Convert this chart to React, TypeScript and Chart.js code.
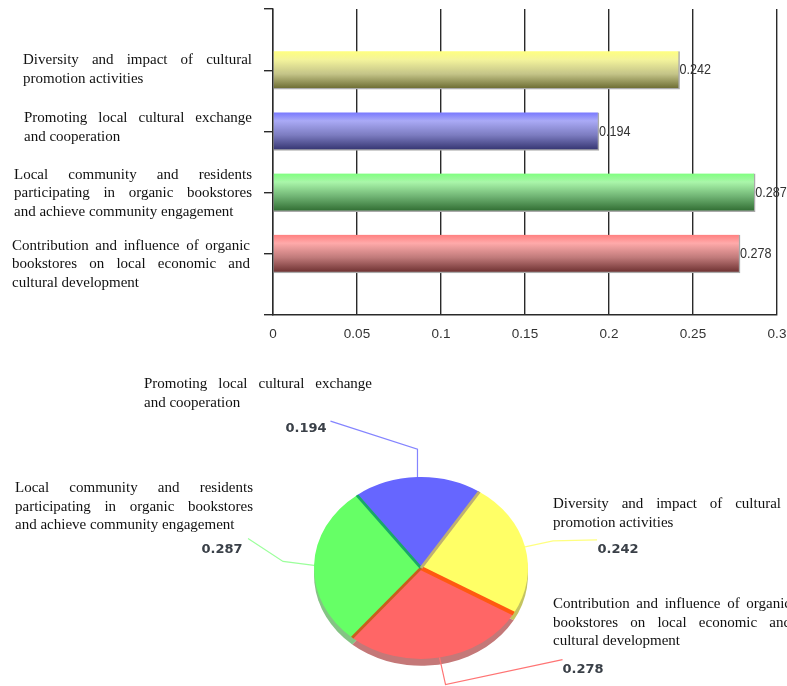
import React, { useEffect, useRef } from "react";
import { Chart, registerables } from "chart.js";

Chart.register(...registerables);

const categories = [
  "Diversity and impact of cultural promotion activities",
  "Promoting local cultural exchange and cooperation",
  "Local community and residents participating in organic bookstores and achieve community engagement",
  "Contribution and influence of organic bookstores on local economic and cultural development",
];
const categoryLines = [
  ["Diversity and impact of cultural", "promotion activities"],
  ["Promoting local cultural exchange", "and cooperation"],
  ["Local community and residents", "participating in organic bookstores", "and achieve community engagement"],
  ["Contribution and influence of organic", "bookstores on local economic and", "cultural development"],
];
const values = [0.242, 0.194, 0.287, 0.278];
const xTickLabels = ["0", "0.05", "0.1", "0.15", "0.2", "0.25", "0.3"];
const pieOrder = [0, 3, 2, 1];

const solid = ["#ffff66", "#6666ff", "#66ff66", "#ff6666"];
const wall = ["#c4c460", "#4444a8", "#84c484", "#c47878"];
const band = ["#ff5a10", "#c0b070", "#18a868", "#c8601c"];
const bandWidth = [4.5, 3, 3, 3];
const leader = ["#ffff80", "#8484ff", "#9cff9c", "#ff7474"];
const barStops = [
  ["#ffff80", "#f4f49c", "#c4c488", "#68682e"],
  ["#7878ff", "#aaaaf6", "#7c7cc0", "#32326e"],
  ["#80ff80", "#aaf6aa", "#70b474", "#2e6a30"],
  ["#ff8080", "#ffaaaa", "#c07a7a", "#6a2e2e"],
];

const SERIF = "15px 'Liberation Serif', serif";
const LH = 18.7;

// x, width, first-line centre offset from the tick
const barText = [
  [23, 229, -10],
  [24, 228, -13],
  [14, 238, -18],
  [12, 238, -8],
];
// x, width, first-line centre (pie canvas coordinates)
const pieText = [
  [553, 228, 159],
  [144, 228, 39],
  [15, 238, 143],
  [553, 238, 259],
];
// pie value label x, y
const pieValuePos = [
  [618, 205],
  [306, 84],
  [222, 205],
  [583, 325],
];
const leaderOffsets = [
  [[28, -6], [72, -7]],
  [[0, -28], [-87, -56]],
  [[-31, -4], [-66, -27]],
  [[6, 27], [123, 2]],
];

function drawBlock(ctx: CanvasRenderingContext2D, lines: string[], x: number, w: number, y: number) {
  ctx.save();
  ctx.font = SERIF;
  ctx.fillStyle = "#111";
  ctx.textBaseline = "middle";
  ctx.textAlign = "left";
  lines.forEach((line, i) => {
    const ly = y + i * LH;
    if (i === lines.length - 1) {
      ctx.fillText(line, x, ly);
      return;
    }
    const words = line.split(" ");
    const total = words.reduce((s, t) => s + ctx.measureText(t).width, 0);
    const gap = (w - total) / (words.length - 1);
    let cx = x;
    words.forEach((t) => {
      ctx.fillText(t, cx, ly);
      cx += ctx.measureText(t).width + gap;
    });
  });
  ctx.restore();
}

const barPlugin = {
  id: "barText",
  afterDatasetsDraw(chart: any) {
    const ctx = chart.ctx;
    const meta = chart.getDatasetMeta(0);
    values.forEach((v, i) => {
      const el = meta.data[i + 1];
      ctx.save();
      ctx.translate(el.x, el.y);
      ctx.scale(0.84, 1);
      ctx.font = "15px 'Liberation Sans', sans-serif";
      ctx.fillStyle = "#333";
      ctx.textBaseline = "middle";
      ctx.fillText(String(v), 0, 0);
      ctx.restore();
    });
    categoryLines.forEach((lines, i) => {
      const t = barText[i];
      drawBlock(ctx, lines, t[0], t[1], chart.scales.y.getPixelForValue(i + 1) + t[2]);
    });
  },
};

const SQUASH = 0.85;
const DEPTH = 8;

const piePlugin = {
  id: "pie3d",
  beforeDatasetsDraw(chart: any) {
    const ctx = chart.ctx;
    const arcs = chart.getDatasetMeta(0).data;
    const { x, y } = arcs[0];
    ctx.save();
    ctx.translate(x, y);
    ctx.scale(1, SQUASH);
    ctx.translate(-x, -y);
    arcs.forEach((a: any, i: number) => {
      ctx.beginPath();
      ctx.moveTo(a.x, a.y + DEPTH);
      ctx.arc(a.x, a.y + DEPTH, a.outerRadius, a.startAngle, a.endAngle);
      ctx.closePath();
      ctx.fillStyle = wall[pieOrder[i]];
      ctx.fill();
    });
  },
  afterDatasetsDraw(chart: any) {
    const ctx = chart.ctx;
    const arcs = chart.getDatasetMeta(0).data;
    arcs.forEach((a: any, i: number) => {
      const idx = pieOrder[i];
      ctx.beginPath();
      ctx.moveTo(a.x, a.y);
      ctx.lineTo(a.x + a.outerRadius * Math.cos(a.endAngle), a.y + a.outerRadius * Math.sin(a.endAngle));
      ctx.strokeStyle = band[idx];
      ctx.lineWidth = bandWidth[idx];
      ctx.stroke();
    });
    ctx.restore();

    arcs.forEach((a: any, i: number) => {
      const idx = pieOrder[i];
      const mid = (a.startAngle + a.endAngle) / 2;
      const px = a.x + a.outerRadius * Math.cos(mid);
      const py = a.y + a.outerRadius * SQUASH * Math.sin(mid);
      ctx.beginPath();
      ctx.moveTo(px, py);
      leaderOffsets[idx].forEach((o) => ctx.lineTo(px + o[0], py + o[1]));
      ctx.strokeStyle = leader[idx];
      ctx.lineWidth = 1.2;
      ctx.stroke();
    });

    ctx.save();
    ctx.font = "bold 13px 'DejaVu Sans', sans-serif";
    ctx.fillStyle = "#3a4048";
    ctx.textAlign = "center";
    ctx.textBaseline = "middle";
    values.forEach((v, i) => ctx.fillText(String(v), pieValuePos[i][0], pieValuePos[i][1]));
    ctx.restore();
    categoryLines.forEach((lines, i) => {
      const t = pieText[i];
      drawBlock(ctx, lines, t[0], t[1], t[2]);
    });
  },
};

export default function App() {
  const barRef = useRef<HTMLCanvasElement>(null);
  const pieRef = useRef<HTMLCanvasElement>(null);

  useEffect(() => {
    const bar = new Chart(barRef.current as any, {
      type: "bar",
      data: {
        labels: ["", ...categories, ""],
        datasets: [
          {
            data: [null, ...values, null] as any,
            barThickness: 38,
            borderColor: "#aaaaaa",
            borderWidth: { right: 1.5, bottom: 1.5, top: 0, left: 0 } as any,
            borderSkipped: false,
            backgroundColor: (c: any) => {
              const stops = barStops[c.dataIndex - 1];
              const sc = c.chart.scales.y;
              if (!stops || !sc) return "#999";
              const py = sc.getPixelForValue(c.dataIndex);
              const g = c.chart.ctx.createLinearGradient(0, py - 19, 0, py + 19);
              g.addColorStop(0, stops[0]);
              g.addColorStop(0.22, stops[1]);
              g.addColorStop(0.6, stops[2]);
              g.addColorStop(1, stops[3]);
              return g;
            },
          },
        ],
      },
      options: {
        indexAxis: "y",
        responsive: false,
        animation: false,
        layout: { padding: { top: 9, right: 10, left: 0, bottom: 0 } },
        plugins: { legend: { display: false }, tooltip: { enabled: false }, title: { display: false } },
        scales: {
          x: {
            min: 0,
            max: 0.3,
            ticks: {
              stepSize: 0.05,
              autoSkip: false,
              maxRotation: 0,
              padding: 11,
              color: "#333",
              font: { family: "'Liberation Sans', sans-serif", size: 13.5 },
              callback: (_v: any, i: number) => xTickLabels[i],
            },
            grid: { color: "#2a2a2a", lineWidth: 1.4, drawTicks: false },
            border: { color: "#2a2a2a", width: 1.4 },
            afterFit: (s: any) => {
              s.height = 30;
              s.paddingRight = 0;
              s.paddingLeft = 0;
            },
          },
          y: {
            offset: false,
            ticks: { display: false },
            grid: { offset: false, drawOnChartArea: false, color: "#2a2a2a", lineWidth: 1.4, tickLength: 9 },
            border: { color: "#2a2a2a", width: 1.4 },
            afterFit: (s: any) => {
              s.width = 273;
              s.paddingTop = 0;
              s.paddingBottom = 0;
            },
          },
        },
      } as any,
      plugins: [barPlugin],
    });

    const pie = new Chart(pieRef.current as any, {
      type: "pie",
      data: {
        labels: pieOrder.map((i) => categories[i]),
        datasets: [
          {
            data: pieOrder.map((i) => values[i]),
            backgroundColor: pieOrder.map((i) => solid[i]),
            borderWidth: 0,
          },
        ],
      },
      options: {
        responsive: false,
        animation: false,
        rotation: 33,
        layout: { padding: { left: 314, right: 259, top: 116, bottom: 11 } },
        plugins: { legend: { display: false }, tooltip: { enabled: false }, title: { display: false } },
      } as any,
      plugins: [piePlugin],
    });

    return () => {
      bar.destroy();
      pie.destroy();
    };
  }, []);

  const canvasStyle = { position: "absolute", left: 0, width: 787, filter: "blur(0.35px)" } as const;
  return (
    <div style={{ position: "absolute", left: 0, top: 0, width: 787, height: 686, overflow: "hidden", background: "#fff" }}>
      <canvas ref={barRef} width={787} height={345} style={{ ...canvasStyle, top: 0, height: 345 }} />
      <canvas ref={pieRef} width={787} height={341} style={{ ...canvasStyle, top: 345, height: 341 }} />
    </div>
  );
}
